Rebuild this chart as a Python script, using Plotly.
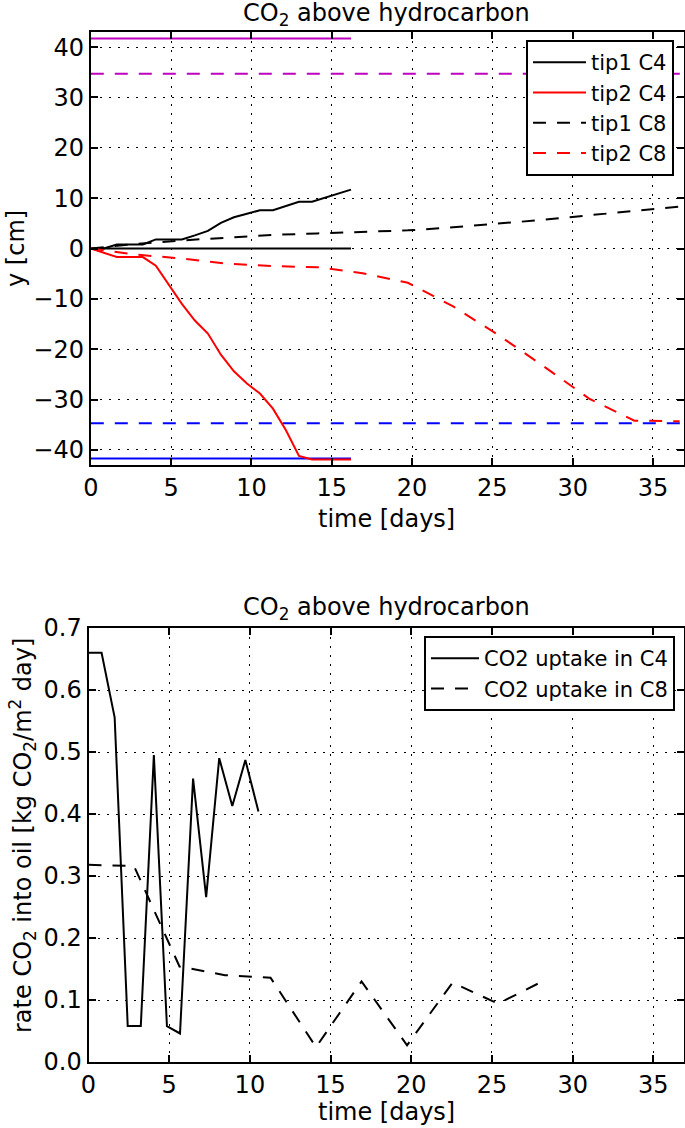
import plotly.graph_objects as go

W, H = 685, 1128

# ---------------- data: top panel ----------------
t_c4 = [0, 0.81, 1.62, 2.43, 3.24, 4.05, 4.86, 5.67, 6.48, 7.29, 8.1, 8.91, 9.72,
        10.53, 11.34, 12.15, 12.96, 13.77, 14.58, 15.39, 16.2]
tip1_c4 = [0, 0.0, 0.8, 0.8, 0.8, 1.8, 1.8, 1.8, 2.6, 3.5, 5.1, 6.2, 6.9,
           7.6, 7.6, 8.5, 9.3, 9.3, 10.1, 10.9, 11.7]
tip2_c4 = [0, -0.85, -1.7, -1.7, -1.7, -3.4, -7.2, -11.0, -14.3, -16.9, -21.1, -24.4, -26.8,
           -28.8, -31.8, -36.1, -41.2, -41.9, -41.9, -41.9, -41.9]
t_c8 = [0, 2.82, 5.64, 8.46, 11.28, 14.1, 16.92, 19.74, 22.56, 25.38, 28.2, 31.02, 33.84, 36.66]
tip1_c8 = [0, 0.9, 1.6, 2.2, 2.7, 3.0, 3.3, 3.6, 4.2, 4.9, 5.7, 6.6, 7.5, 8.3]
tip2_c8 = [0, -1.2, -2.0, -3.0, -3.5, -3.7, -4.9, -6.8, -11.5, -17.2, -23.4, -29.8, -34.2, -34.3]

# reference levels
t_ref_c4 = [0, 16.2]
t_ref_c8 = [0, 36.9]
top_c4, bot_c4 = 41.7, -41.7
top_c8, bot_c8 = 34.7, -34.7
interface = 0

# ---------------- data: bottom panel ----------------
t_rate_c4 = [0, 0.81, 1.62, 2.43, 3.24, 4.05, 4.86, 5.67, 6.48, 7.29, 8.1, 8.91, 9.72, 10.53]
rate_c4 = [0.66, 0.66, 0.556, 0.058, 0.058, 0.495, 0.058, 0.046, 0.457, 0.266, 0.49, 0.413, 0.487, 0.404]
t_rate_c8 = [0, 2.82, 5.64, 8.46, 11.28, 14.1, 16.92, 19.74, 22.56, 25.38, 28.2]
rate_c8 = [0.318, 0.316, 0.154, 0.140, 0.136, 0.024, 0.130, 0.027, 0.128, 0.094, 0.131]

x_ticks = [0, 5, 10, 15, 20, 25, 30, 35]
y_ticks_top = [-40, -30, -20, -10, 0, 10, 20, 30, 40]
y_ticks_bot = [0.0, 0.1, 0.2, 0.3, 0.4, 0.5, 0.6, 0.7]

FONT = "DejaVu Sans"
MAG = "rgb(191,0,191)"
DASH = "13px,11px"
LW = 2

fig = go.Figure()

def add(x, y, color, dash=None, name=None, legend=None, xa="x", ya="y"):
    fig.add_trace(go.Scatter(
        x=x, y=y, mode="lines", xaxis=xa, yaxis=ya,
        line=dict(color=color, width=LW, dash=dash if dash else "solid"),
        name=name if name else "", showlegend=name is not None,
        legend=legend if legend else "legend", hoverinfo="skip"))

# top panel reference lines
add(t_ref_c4, [top_c4, top_c4], MAG)
add(t_ref_c8, [top_c8, top_c8], MAG, DASH)
add(t_ref_c8, [bot_c8, bot_c8], "blue", DASH)
add(t_ref_c4, [bot_c4, bot_c4], "blue")
add(t_ref_c4, [interface, interface], "black")
# top panel tips
add(t_c4, tip1_c4, "black", None, "tip1 C4")
add(t_c4, tip2_c4, "red", None, "tip2 C4")
add(t_c8, tip1_c8, "black", DASH, "tip1 C8")
add(t_c8, tip2_c8, "red", DASH, "tip2 C8")

# bottom panel
add(t_rate_c4, rate_c4, "black", None, "CO2 uptake in C4", "legend2", "x2", "y2")
add(t_rate_c8, rate_c8, "black", DASH, "CO2 uptake in C8", "legend2", "x2", "y2")

def px_x(p):
    return p / W

def px_y(p):
    return 1 - p / H

axis_common = dict(
    showline=True, linecolor="black", linewidth=2, mirror="allticks",
    ticks="inside", ticklen=7, tickwidth=1.5, tickcolor="black",
    showgrid=True, gridcolor="black", gridwidth=1, griddash="2px,7px",
    zeroline=False, tickfont=dict(family=FONT, size=24, color="black"),
    automargin=False,
)

fig.update_layout(
    width=W, height=H, margin=dict(l=0, r=0, t=0, b=0),
    paper_bgcolor="white", plot_bgcolor="white",
    font=dict(family=FONT, color="black"),
    xaxis=dict(domain=[px_x(90.8), px_x(683.5)], range=[0, 36.9], tickvals=x_ticks,
               anchor="y", **axis_common),
    yaxis=dict(domain=[px_y(465), px_y(32)], range=[-43, 43], tickvals=y_ticks_top,
               tickformat="d", anchor="x", **axis_common),
    xaxis2=dict(domain=[px_x(88.5), px_x(684)], range=[0, 36.9], tickvals=x_ticks,
                anchor="y2", **axis_common),
    yaxis2=dict(domain=[px_y(1062), px_y(628)], range=[0, 0.7], tickvals=y_ticks_bot,
                tickformat=".1f", anchor="x2", **axis_common),
    legend=dict(x=px_x(674), y=px_y(40), xanchor="right", yanchor="top",
                bgcolor="white", bordercolor="black", borderwidth=2,
                font=dict(family=FONT, size=21, color="black"),
                itemwidth=53, tracegroupgap=0),
    legend2=dict(x=px_x(675), y=px_y(636), xanchor="right", yanchor="top",
                 bgcolor="white", bordercolor="black", borderwidth=2,
                 font=dict(family=FONT, size=21, color="black"),
                 itemwidth=48, tracegroupgap=0),
    showlegend=True,
)

ann_font = dict(family=FONT, size=24, color="black")
annotations = [
    dict(text="CO<sub>2</sub> above hydrocarbon", x=px_x(387), y=px_y(14)),
    dict(text="CO<sub>2</sub> above hydrocarbon", x=px_x(386), y=px_y(608)),
    dict(text="time [days]", x=px_x(387), y=px_y(519)),
    dict(text="time [days]", x=px_x(386), y=px_y(1112)),
    dict(text="y [cm]", x=px_x(16), y=px_y(249), textangle=-90),
    dict(text="rate CO<sub>2</sub> into oil [kg CO<sub>2</sub>/m<sup>2</sup> day]",
         x=px_x(22), y=px_y(836), textangle=-90),
]
for a in annotations:
    fig.add_annotation(xref="paper", yref="paper", xanchor="center", yanchor="middle",
                       showarrow=False, font=ann_font, **a)

fig.write_html("out.html",
               config={"displayModeBar": False},
               post_script="document.body.style.margin='0';document.body.style.overflow='hidden';")
